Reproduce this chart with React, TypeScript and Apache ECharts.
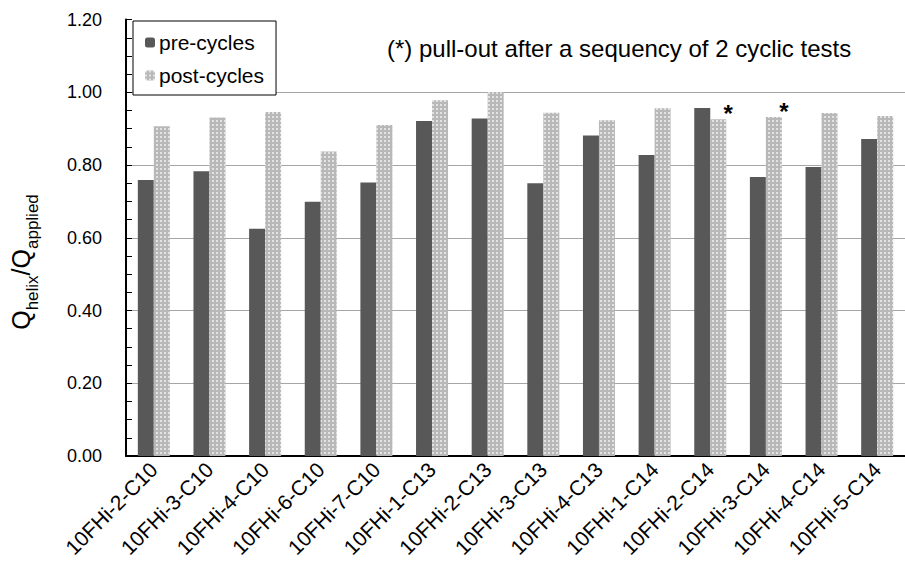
import React, { useEffect, useRef } from "react";
import * as echarts from "echarts";

const categories = [
  "10FHi-2-C10", "10FHi-3-C10", "10FHi-4-C10", "10FHi-6-C10", "10FHi-7-C10",
  "10FHi-1-C13", "10FHi-2-C13", "10FHi-3-C13", "10FHi-4-C13",
  "10FHi-1-C14", "10FHi-2-C14", "10FHi-3-C14", "10FHi-4-C14", "10FHi-5-C14",
];
const preCycles = [0.759, 0.783, 0.625, 0.699, 0.752, 0.921, 0.928, 0.75, 0.881, 0.828, 0.957, 0.767, 0.795, 0.872];
const postCycles = [0.907, 0.931, 0.946, 0.837, 0.91, 0.978, 1.0, 0.944, 0.923, 0.956, 0.926, 0.932, 0.943, 0.935];
const starredIdx = [10, 11];
const yTicks = { min: 0, max: 1.2, interval: 0.2 };
const noteText = "(*) pull-out after a sequency of 2 cyclic tests";

const FONT = "'Liberation Sans', Arial, sans-serif";

export default function App() {
  const ref = useRef<HTMLDivElement>(null);
  useEffect(() => {
    if (!ref.current) return;
    const chart = echarts.init(ref.current, null, { renderer: "svg" });
    const postData = postCycles.map((v, i) =>
      starredIdx.includes(i)
        ? {
            value: v,
            label: {
              show: true,
              position: "top",
              formatter: "*",
              distance: 0,
              offset: [10, 6],
              fontSize: 24,
              fontWeight: "bold",
              color: "#000",
              fontFamily: FONT,
            },
          }
        : v
    );
    chart.setOption({
      animation: false,
      backgroundColor: "#fff",
      textStyle: { fontFamily: FONT },
      grid: { left: 126, top: 19.6, width: 790, height: 436.4, containLabel: false },
      legend: {
        orient: "vertical",
        left: 133,
        top: 21,
        padding: [11, 12, 9, 12],
        itemGap: 12,
        itemWidth: 10,
        itemHeight: 10,
        borderColor: "#000",
        borderWidth: 1,
        backgroundColor: "#fff",
        textStyle: { fontSize: 21, color: "#000", fontFamily: FONT, padding: [0, 0, 0, -1] },
        data: ["pre-cycles", "post-cycles"],
      },
      xAxis: {
        type: "category",
        data: categories,
        axisLine: { lineStyle: { color: "#000", width: 2 } },
        axisTick: { inside: true, alignWithLabel: true, length: 4, lineStyle: { color: "#000", width: 1 } },
        axisLabel: { rotate: 45, fontSize: 21, color: "#000", margin: 10, fontFamily: FONT },
        splitLine: { show: false },
      },
      yAxis: {
        type: "value",
        min: yTicks.min,
        max: yTicks.max,
        interval: yTicks.interval,
        axisLine: { show: true, lineStyle: { color: "#000", width: 2 } },
        axisTick: { show: true, inside: true, length: 6, lineStyle: { color: "#000", width: 1 } },
        minorTick: { show: true, splitNumber: 4, length: 6, lineStyle: { color: "#000", width: 1 } },
        axisLabel: {
          fontSize: 18,
          color: "#000",
          margin: 24,
          fontFamily: FONT,
          formatter: (v: number) => v.toFixed(2),
        },
        splitLine: { show: true, showMaxLine: false, lineStyle: { color: "#a6a6a6", width: 1 } },
      },
      graphic: [
        {
          type: "text",
          x: 21,
          y: 262,
          rotation: Math.PI / 2,
          style: {
            text: "{q|Q}{s|helix}{q|/Q}{s|applied}",
            align: "center",
            verticalAlign: "middle",
            fill: "#000",
            rich: {
              q: { fontSize: 25, lineHeight: 40, verticalAlign: "middle", fontFamily: FONT, fill: "#000" },
              s: { fontSize: 17, lineHeight: 15, verticalAlign: "bottom", fontFamily: FONT, fill: "#000" },
            },
          },
        },
        {
          type: "text",
          left: 387,
          top: 36,
          style: { text: noteText, fontSize: 24, fill: "#000", fontFamily: FONT },
        },
      ],
      series: [
        {
          name: "pre-cycles",
          type: "bar",
          data: preCycles,
          barWidth: 16,
          barGap: "0%",
          itemStyle: { color: "#585858" },
        },
        {
          name: "post-cycles",
          type: "bar",
          data: postData,
          barWidth: 16,
          barGap: "0%",
          itemStyle: {
            color: "#b8b8b8",
            decal: {
              symbol: "rect",
              symbolSize: 1,
              color: "rgba(255,255,255,0.6)",
              dashArrayX: [2, 2],
              dashArrayY: [2, 2],
              rotation: 0,
            },
          },
        },
      ],
    });
    return () => chart.dispose();
  }, []);
  return (
    <div
      ref={ref}
      style={{ position: "absolute", left: 0, top: 0, width: 905, height: 568, background: "#fff" }}
    />
  );
}
